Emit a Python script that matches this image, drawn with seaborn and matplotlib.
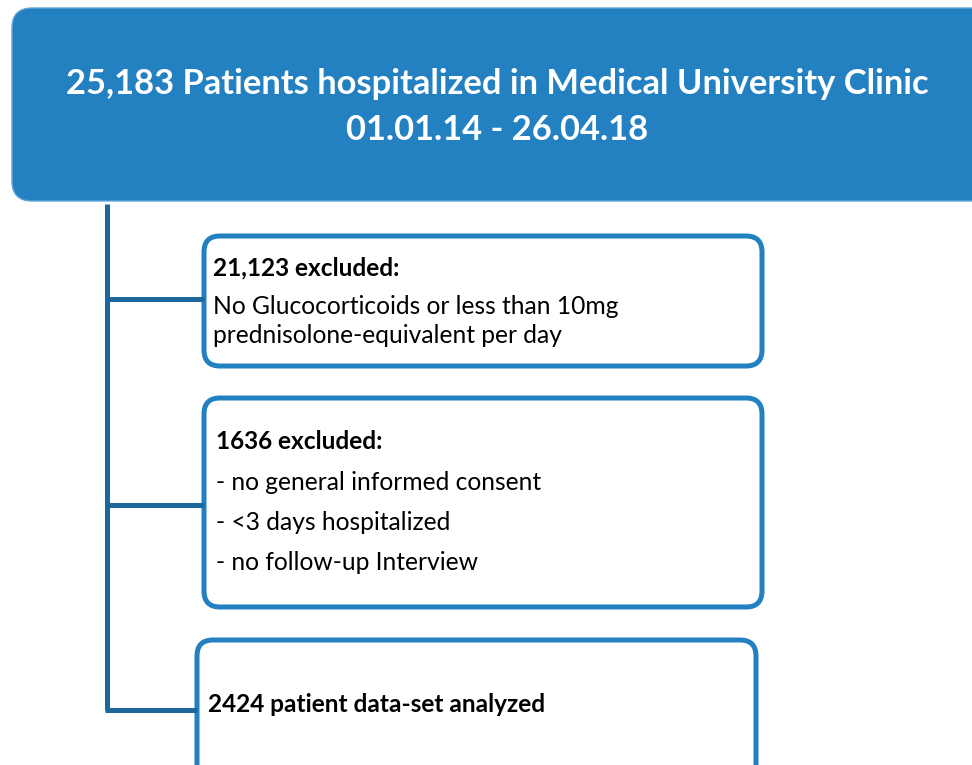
import matplotlib.pyplot as plt
import seaborn as sns
from matplotlib.patches import FancyBboxPatch

# flow chart content
title_lines = ["25,183 Patients hospitalized in Medical University Clinic", "01.01.14 - 26.04.18"]
box_heads = ["21,123 excluded:", "1636 excluded:", "2424 patient data-set analyzed"]
box_bodies = [
    ["No Glucocorticoids or less than 10mg", "prednisolone-equivalent per day"],
    ["- no general informed consent", "- <3 days hospitalized", "- no follow-up Interview"],
    [],
]

# layout in pixels (x0, y0, x1, y1)
top_box = (12, 8, 995, 201)
boxes = [(204, 236, 762, 366), (204, 398, 762, 607), (197, 640, 756, 790)]
head_y = [268, 441, 704]
body_y = [[306, 335], [482, 522, 562], []]
text_x = [213, 216, 208]
branch_y = [299, 505, 710]
trunk_x = 107

fill = "#2381c2"
dark = "#1c679c"

sns.set_style("white")
plt.rcParams['font.family'] = ['Lato', 'DejaVu Sans']

fig = plt.figure(figsize=(9.72, 7.65), dpi=100)
ax = fig.add_axes([0, 0, 1, 1])
ax.set_xlim(0, 972)
ax.set_ylim(765, 0)
ax.set_aspect('equal')
ax.axis('off')

x0, y0, x1, y1 = top_box
ax.add_patch(FancyBboxPatch((x0, y0), x1 - x0, y1 - y0,
                            boxstyle="round,pad=0,rounding_size=20",
                            facecolor=fill, edgecolor="#5fa6d6", linewidth=1))
ax.text(497, 84, title_lines[0], color="white", fontsize=24.8, fontweight='bold',
        ha='center', va='center')
ax.text(497, 130, title_lines[1], color="white", fontsize=24.8, fontweight='bold',
        ha='center', va='center')

# connectors
ax.plot([trunk_x, trunk_x], [204, branch_y[-1]], color=dark, lw=3.6, solid_capstyle='butt')
for (bx0, by0, bx1, by1), yb in zip(boxes, branch_y):
    ax.plot([trunk_x - 1.8, bx0], [yb, yb], color=dark, lw=3.6, solid_capstyle='butt')

for i, (bx0, by0, bx1, by1) in enumerate(boxes):
    ax.add_patch(FancyBboxPatch((bx0, by0), bx1 - bx0, by1 - by0,
                                boxstyle="round,pad=0,rounding_size=16",
                                facecolor="white", edgecolor=fill, linewidth=3.6))
    ax.text(text_x[i], head_y[i], box_heads[i], fontsize=17.6, fontweight='bold',
            ha='left', va='center', color='black')
    for line, yy in zip(box_bodies[i], body_y[i]):
        ax.text(text_x[i], yy, line, fontsize=17.7, ha='left', va='center', color='black')

fig.savefig("out.png", dpi=100)
